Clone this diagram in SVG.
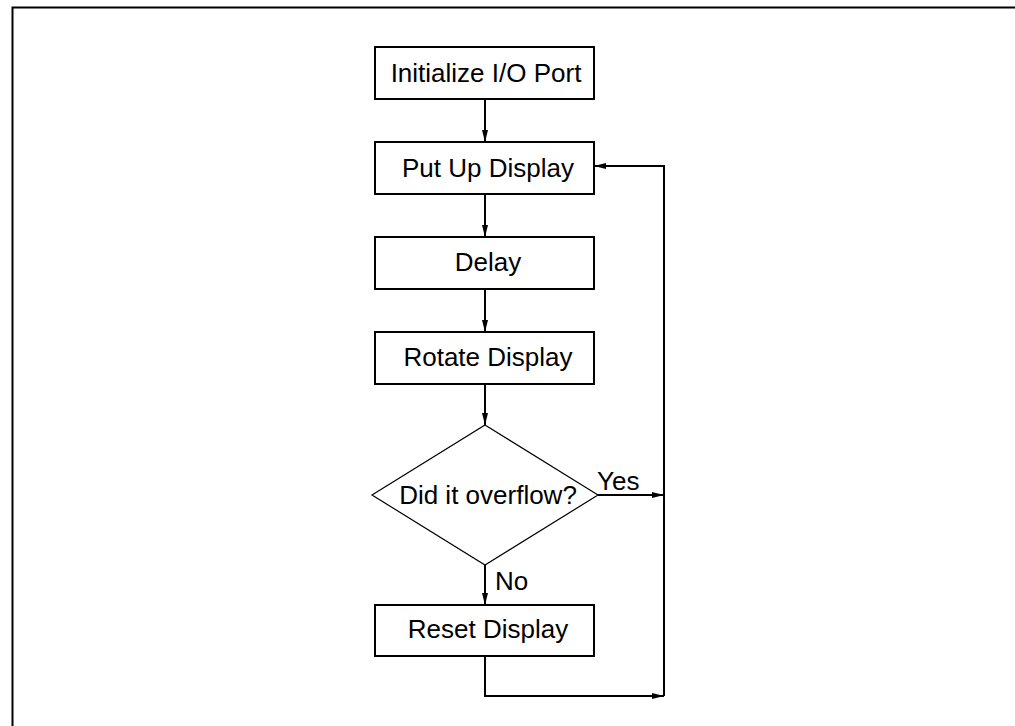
<svg xmlns="http://www.w3.org/2000/svg" width="1015" height="726" viewBox="0 0 1015 726">
<defs>
<marker id="arr" markerUnits="userSpaceOnUse" markerWidth="13" markerHeight="8" refX="12" refY="4" orient="auto">
<path d="M0,1 L12,4 L0,7 z" fill="#000"/>
</marker>
<style>
.box{fill:#fff;stroke:#000;stroke-width:2}
.dia{fill:#fff;stroke:#000;stroke-width:1.2}
.t{font-family:"Liberation Sans",Arial,sans-serif;font-size:26px;fill:#000}
.c{text-anchor:middle}
.ln{fill:none;stroke:#000;stroke-width:2}
</style>
</defs>
<rect width="1015" height="726" fill="#fff"/>
<path d="M12.5,726 V7.5 H1015" fill="none" stroke="#000" stroke-width="2"/>
<g id="connectors">
<path class="ln" d="M485,99 V142" marker-end="url(#arr)"/>
<path class="ln" d="M485,194 V237" marker-end="url(#arr)"/>
<path class="ln" d="M485,289 V332" marker-end="url(#arr)"/>
<path class="ln" d="M485,384 V425" marker-end="url(#arr)"/>
<path class="ln" d="M485,565 V605" marker-end="url(#arr)"/>
<path class="ln" d="M598,495 H664" marker-end="url(#arr)"/>
<path class="ln" d="M485,656 V696 H664" marker-end="url(#arr)"/>
<path class="ln" d="M664,696 V166 H594" marker-end="url(#arr)"/>
<text class="t" x="597" y="490">Yes</text>
<text class="t" x="495" y="590">No</text>
</g>
<g id="init">
<rect class="box" x="375" y="47" width="219" height="52"/>
<text class="t c" x="486" y="82">Initialize I/O Port</text>
</g>
<g id="putup">
<rect class="box" x="375" y="142" width="219" height="52"/>
<text class="t c" x="488" y="177">Put Up Display</text>
</g>
<g id="delay">
<rect class="box" x="375" y="237" width="219" height="52"/>
<text class="t c" x="488" y="271">Delay</text>
</g>
<g id="rotate">
<rect class="box" x="375" y="332" width="219" height="52"/>
<text class="t c" x="488" y="366">Rotate Display</text>
</g>
<g id="decision">
<polygon class="dia" points="485,425 598,495 485,565 372,495"/>
<text class="t c" x="488" y="504">Did it overflow?</text>
</g>
<g id="reset">
<rect class="box" x="375" y="605" width="219" height="51"/>
<text class="t c" x="488" y="638">Reset Display</text>
</g>
</svg>
